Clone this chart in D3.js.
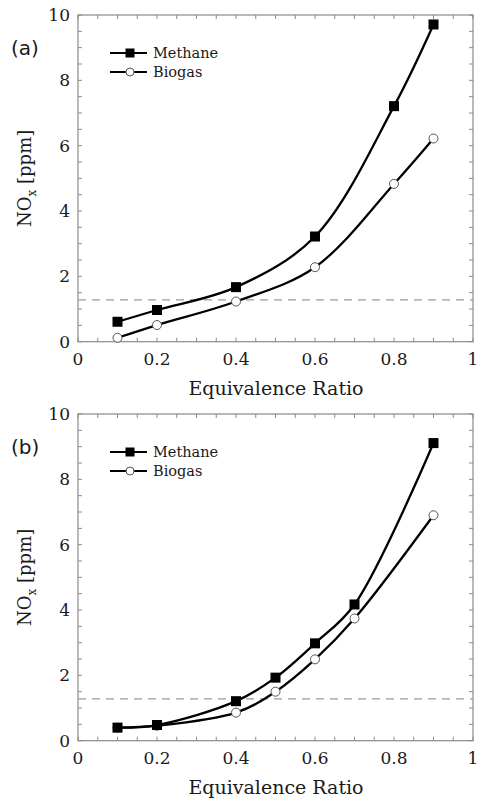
<!DOCTYPE html>
<html><head><meta charset="utf-8">
<script src="https://cdn.jsdelivr.net/npm/d3@7"></script>
<style>body{margin:0;background:#fff;} svg{display:block;}</style>
</head><body>
<svg id="c" width="477" height="801"></svg>
<script>
const phiA = [0.1, 0.2, 0.4, 0.6, 0.8, 0.9];
const methaneA = [0.61, 0.97, 1.67, 3.22, 7.21, 9.71];
const biogasA = [0.12, 0.51, 1.23, 2.28, 4.83, 6.22];
const phiB = [0.1, 0.2, 0.4, 0.5, 0.6, 0.7, 0.9];
const methaneB = [0.40, 0.48, 1.21, 1.93, 2.98, 4.17, 9.11];
const biogasB = [0.40, 0.46, 0.86, 1.50, 2.49, 3.74, 6.90];
const xTicks = [0, 0.2, 0.4, 0.6, 0.8, 1];
const xTickLabels = ["0", "0.2", "0.4", "0.6", "0.8", "1"];
const yTicks = [0, 2, 4, 6, 8, 10];
const limitNOx = 1.28;
const seriesNames = ["Methane", "Biogas"];

const svg = d3.select("#c");
const serif = "'DejaVu Serif', serif";

function panel(label, top, bottom, phi, m, b) {
  const left = 78, right = 473;
  const x = d3.scaleLinear().domain([0, 1]).range([left, right]);
  const y = d3.scaleLinear().domain([0, 10]).range([bottom, top]);
  const g = svg.append("g");
  const axColor = "#8a8a8a";
  const xm = d3.range(0, 1.0001, 0.05);
  const ym = d3.range(0, 10.0001, 0.5);
  const tl = 4;
  xm.forEach(v => {
    g.append("line").attr("x1", x(v)).attr("x2", x(v)).attr("y1", bottom).attr("y2", bottom - tl).attr("stroke", axColor);
    g.append("line").attr("x1", x(v)).attr("x2", x(v)).attr("y1", top).attr("y2", top + tl).attr("stroke", axColor);
  });
  ym.forEach(v => {
    g.append("line").attr("x1", left).attr("x2", left + tl).attr("y1", y(v)).attr("y2", y(v)).attr("stroke", axColor);
    g.append("line").attr("x1", right).attr("x2", right - tl).attr("y1", y(v)).attr("y2", y(v)).attr("stroke", axColor);
  });
  g.append("rect").attr("x", left).attr("y", top).attr("width", right - left).attr("height", bottom - top)
    .attr("fill", "none").attr("stroke", axColor).attr("stroke-width", 1.2);
  xTicks.forEach((v, i) => {
    g.append("text").attr("x", x(v)).attr("y", bottom + 23).attr("text-anchor", "middle")
      .attr("font-family", serif).attr("font-size", 17).attr("fill", "#1a1a1a").text(xTickLabels[i]);
  });
  yTicks.forEach(v => {
    g.append("text").attr("x", left - 8).attr("y", y(v) + 6).attr("text-anchor", "end")
      .attr("font-family", serif).attr("font-size", 17).attr("fill", "#1a1a1a").text(v);
  });
  g.append("text").attr("x", 276).attr("y", bottom + 53).attr("text-anchor", "middle")
    .attr("font-family", serif).attr("font-size", 19).attr("fill", "#1a1a1a").text("Equivalence Ratio");
  const yl = g.append("text").attr("transform", `translate(31,${(top + bottom) / 2}) rotate(-90)`)
    .attr("text-anchor", "middle").attr("font-family", serif).attr("font-size", 18).attr("fill", "#1a1a1a");
  yl.append("tspan").text("NO");
  yl.append("tspan").attr("font-size", 12).attr("dy", 5).text("x");
  yl.append("tspan").attr("dy", -5).text(" [ppm]");
  g.append("text").attr("x", 11).attr("y", top + 40).attr("font-family", "'DejaVu Sans', sans-serif")
    .attr("font-size", 20).attr("fill", "#1a1a1a").text(label);
  g.append("line").attr("x1", left).attr("x2", right).attr("y1", y(limitNOx)).attr("y2", y(limitNOx))
    .attr("stroke", "#999").attr("stroke-width", 1.2).attr("stroke-dasharray", "8,6");
  const line = d3.line().x(d => x(d[0])).y(d => y(d[1])).curve(d3.curveCatmullRom.alpha(0.5));
  const dm = phi.map((p, i) => [p, m[i]]);
  const db = phi.map((p, i) => [p, b[i]]);
  g.append("path").attr("d", line(dm)).attr("fill", "none").attr("stroke", "#000").attr("stroke-width", 2.3);
  g.append("path").attr("d", line(db)).attr("fill", "none").attr("stroke", "#000").attr("stroke-width", 2.3);
  g.selectAll(null).data(db).enter().append("circle").attr("cx", d => x(d[0])).attr("cy", d => y(d[1])).attr("r", 4.5)
    .attr("fill", "#fff").attr("stroke", "#555").attr("stroke-width", 1);
  g.selectAll(null).data(dm).enter().append("rect").attr("x", d => x(d[0]) - 5).attr("y", d => y(d[1]) - 5)
    .attr("width", 10).attr("height", 10).attr("fill", "#000");
  const lx1 = 110, lx2 = 147, lm = 130;
  const ly1 = top + 38, ly2 = top + 57;
  g.append("line").attr("x1", lx1).attr("x2", lx2).attr("y1", ly1).attr("y2", ly1).attr("stroke", "#000").attr("stroke-width", 2);
  g.append("rect").attr("x", lm - 4.5).attr("y", ly1 - 4.5).attr("width", 9).attr("height", 9).attr("fill", "#000");
  g.append("line").attr("x1", lx1).attr("x2", lx2).attr("y1", ly2).attr("y2", ly2).attr("stroke", "#000").attr("stroke-width", 2);
  g.append("circle").attr("cx", lm).attr("cy", ly2).attr("r", 4).attr("fill", "#fff").attr("stroke", "#555");
  g.append("text").attr("x", 153).attr("y", ly1 + 5).attr("font-family", serif).attr("font-size", 14.5).attr("fill", "#1a1a1a").text(seriesNames[0]);
  g.append("text").attr("x", 153).attr("y", ly2 + 5).attr("font-family", serif).attr("font-size", 14.5).attr("fill", "#1a1a1a").text(seriesNames[1]);
}

panel("(a)", 15, 341.7, phiA, methaneA, biogasA);
panel("(b)", 414, 740.7, phiB, methaneB, biogasB);
</script>
</body></html>
